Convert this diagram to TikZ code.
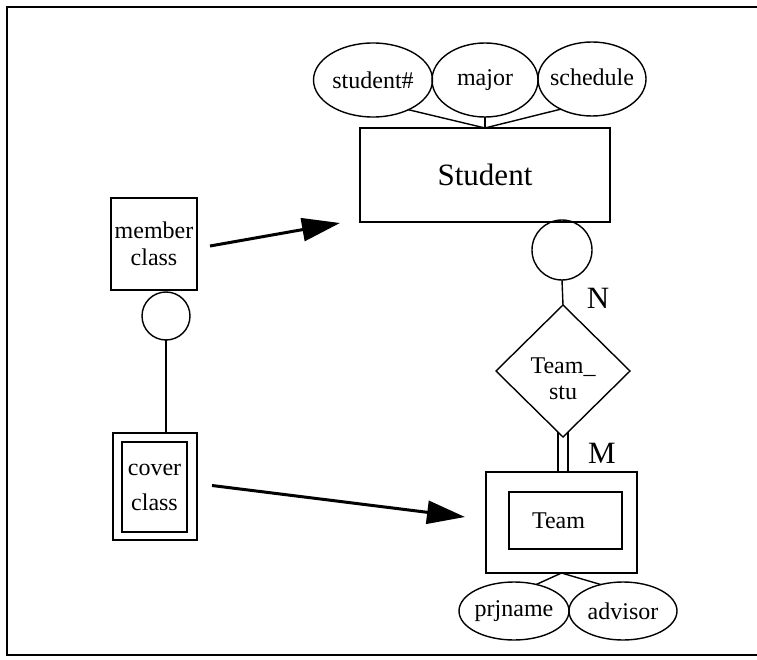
\documentclass[tikz,border=0pt]{standalone}
\usepackage{fontspec}
\setmainfont{Liberation Serif}
\usetikzlibrary{shapes.geometric,arrows.meta}

\begin{document}
\begin{tikzpicture}[x=1pt,y=-1pt,
  every node/.style={inner sep=0pt, outer sep=0pt},
  ln/.style={line width=1.4pt},
  txt/.style={font=\fontsize{24}{26}\selectfont, align=center},
  big/.style={font=\fontsize{31}{34}\selectfont},
  attr/.style={ellipse, draw, ln},
  ent/.style={rectangle, draw, ln},
  ring/.style={circle, draw, ln},
  bigarrow/.style={line width=3pt, -{Triangle[length=38pt,width=23pt]}},
  frameline/.style={line width=1.8pt},
]
\useasboundingbox (0,0) rectangle (757,660);

% open frame: top, left and bottom edges
\draw[frameline] (757,7) -- (7,7) -- (7,655) -- (757,655);

% Student entity with its attributes
\node[ent, minimum width=250pt, minimum height=94pt, big] (student) at (485,175) {Student};
\node[attr, minimum width=119pt, minimum height=74pt, label={[txt]center:student\#}] (sno) at (373,80) {};
\node[attr, minimum width=106pt, minimum height=74pt, label={[txt]center:major}] (major) at (485,80) {};
\node[attr, minimum width=108pt, minimum height=74pt, label={[txt,yshift=2pt]center:schedule}] (sched) at (592,79) {};
\draw[ln] (sno.-40) -- (student.north);
\draw[ln] (major.south) -- (student.north);
\draw[ln] (sched.-136) -- (student.north);

% participation circle and relationship
\node[ring, minimum size=60pt] (c1) at (562,250) {};
\node[diamond, draw, ln, minimum width=134pt, minimum height=132pt] (rel) at (563,371) {};
\node[txt] (reltxt) at (563,379) {Team\_\\stu};
\draw[ln] (c1.south) -- (rel.north);
\node[big] (nlab) at (598,298) {N};

% Team weak entity with attributes
\node[ent, minimum width=151pt, minimum height=101pt] (teamout) at (561.5,522.5) {};
\node[ent, minimum width=113pt, minimum height=57pt, label={[txt,xshift=-7pt]center:Team}] (team) at (565.5,520.5) {};
\draw[ln] ([xshift=-5pt,yshift=5pt]rel.south) -- ([xshift=-5pt]rel.south |- teamout.north);
\draw[ln] ([xshift=5pt,yshift=5pt]rel.south) -- ([xshift=5pt]rel.south |- teamout.north);
\node[big] (mlab) at (602,453) {M};

\node[attr, minimum width=110pt, minimum height=58pt, label={[txt]center:prjname}] (prj) at (514,611) {};
\node[attr, minimum width=108pt, minimum height=58pt, label={[txt]center:advisor}] (adv) at (623,611) {};
\draw[ln] (teamout.south) -- (prj.50);
\draw[ln] (teamout.south) -- (adv.130);

% member class and cover class
\node[ent, minimum width=86pt, minimum height=92pt, font=\fontsize{24}{27}\selectfont, align=center] (member) at (154,244) {member\\class};
\node[ring, minimum size=48pt] (c2) at (166,316) {};
\node[ent, minimum width=84pt, minimum height=107pt] (coverout) at (155,486.5) {};
\node[ent, minimum width=65pt, minimum height=90pt, font=\fontsize{24}{35}\selectfont, align=center] (cover) at (154.5,487) {cover\\class};
\draw[ln] (c2.south) -- (c2.south |- coverout.north);

% mapping arrows
\coordinate (tip1) at (340,223);
\coordinate (tip2) at (465,517);
\draw[bigarrow] ([xshift=13pt,yshift=-2pt]member.east) -- (tip1);
\draw[bigarrow] ([xshift=15pt,yshift=1pt]coverout.east) -- (tip2);
\end{tikzpicture}
\end{document}
